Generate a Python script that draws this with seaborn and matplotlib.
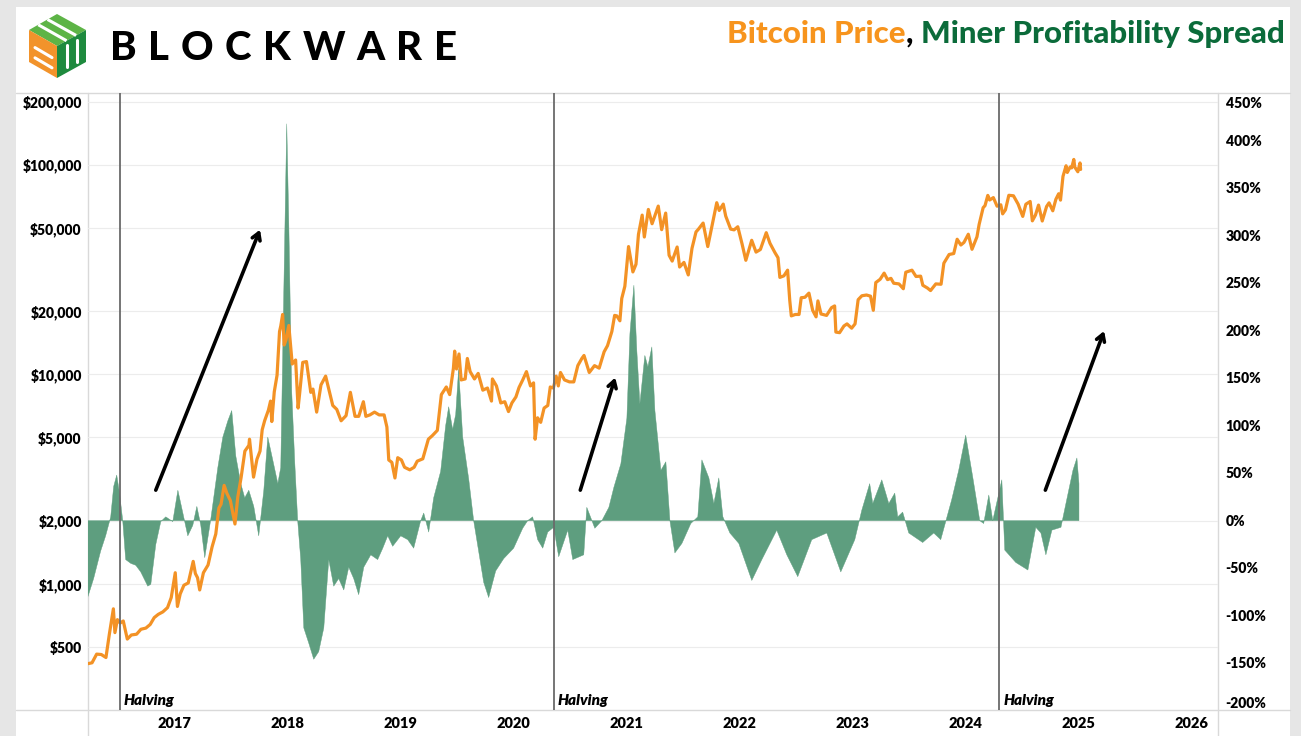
import numpy as np
import pandas as pd
import seaborn as sns
import matplotlib.pyplot as plt
import matplotlib.dates as mdates
from matplotlib.patches import Polygon, Rectangle
from matplotlib.ticker import NullLocator
from matplotlib.transforms import ScaledTranslation

# ---- data ----
price_dates = [
    '2016-03-28', '2016-04-10', '2016-04-25', '2016-05-10', '2016-05-25', '2016-06-05', '2016-06-12', '2016-06-18',
    '2016-06-23', '2016-07-01', '2016-07-10', '2016-07-20', '2016-08-02', '2016-08-15', '2016-09-01', '2016-09-15',
    '2016-10-01', '2016-10-15', '2016-10-28', '2016-11-10', '2016-11-25', '2016-12-10', '2016-12-22',
    '2017-01-04', '2017-01-11', '2017-01-20', '2017-02-01', '2017-02-15', '2017-03-03', '2017-03-10', '2017-03-17',
    '2017-03-24', '2017-04-05', '2017-04-20', '2017-05-03', '2017-05-15', '2017-05-25', '2017-06-01', '2017-06-11',
    '2017-06-20', '2017-07-01', '2017-07-16', '2017-07-25', '2017-08-05', '2017-08-17', '2017-08-30', '2017-09-01',
    '2017-09-14', '2017-09-25', '2017-10-05', '2017-10-12', '2017-10-20', '2017-11-01', '2017-11-08', '2017-11-12',
    '2017-11-20', '2017-11-29', '2017-12-07', '2017-12-11', '2017-12-17', '2017-12-22', '2017-12-28',
    '2018-01-06', '2018-01-17', '2018-01-28', '2018-02-05', '2018-02-10', '2018-02-20', '2018-03-04', '2018-03-18',
    '2018-03-25', '2018-04-06', '2018-04-20', '2018-05-05', '2018-05-15', '2018-05-28', '2018-06-10', '2018-06-24',
    '2018-07-10', '2018-07-24', '2018-08-08', '2018-08-20', '2018-09-04', '2018-09-12', '2018-09-25', '2018-10-10',
    '2018-10-25', '2018-11-10', '2018-11-19', '2018-11-25', '2018-12-05', '2018-12-15', '2018-12-24',
    '2019-01-05', '2019-01-15', '2019-02-01', '2019-02-15', '2019-02-25', '2019-03-15', '2019-04-02', '2019-04-15',
    '2019-05-01', '2019-05-14', '2019-05-30', '2019-06-10', '2019-06-22', '2019-06-26', '2019-07-02', '2019-07-10',
    '2019-07-17', '2019-07-30', '2019-08-06', '2019-08-15', '2019-08-29', '2019-09-10', '2019-09-25', '2019-10-10',
    '2019-10-23', '2019-10-26', '2019-11-08', '2019-11-22', '2019-12-05', '2019-12-17', '2019-12-28',
    '2020-01-10', '2020-01-20', '2020-02-01', '2020-02-13', '2020-02-26', '2020-03-07', '2020-03-12', '2020-03-20',
    '2020-03-30', '2020-04-10', '2020-04-22', '2020-04-30', '2020-05-10', '2020-05-19', '2020-05-26', '2020-06-02',
    '2020-06-15', '2020-07-01', '2020-07-15', '2020-07-28', '2020-08-10', '2020-08-17', '2020-09-03', '2020-09-20',
    '2020-10-05', '2020-10-21', '2020-11-01', '2020-11-15', '2020-11-24', '2020-12-01', '2020-12-11', '2020-12-17',
    '2020-12-27',
    '2021-01-08', '2021-01-22', '2021-02-01', '2021-02-09', '2021-02-21', '2021-02-28', '2021-03-13', '2021-03-25',
    '2021-04-14', '2021-04-25', '2021-05-08', '2021-05-19', '2021-05-29', '2021-06-14', '2021-06-22', '2021-07-06',
    '2021-07-20', '2021-08-01', '2021-08-14', '2021-08-22', '2021-09-06', '2021-09-21', '2021-10-01', '2021-10-20',
    '2021-10-28', '2021-11-10', '2021-11-18', '2021-12-04', '2021-12-15', '2021-12-27',
    '2022-01-10', '2022-01-22', '2022-02-10', '2022-02-24', '2022-03-10', '2022-03-29', '2022-04-10', '2022-04-26',
    '2022-05-06', '2022-05-12', '2022-05-25', '2022-06-06', '2022-06-13', '2022-06-18', '2022-07-01', '2022-07-13',
    '2022-07-20', '2022-08-01', '2022-08-14', '2022-08-26', '2022-09-06', '2022-09-12', '2022-09-22', '2022-10-10',
    '2022-10-26', '2022-11-05', '2022-11-09', '2022-11-21', '2022-12-05', '2022-12-15', '2022-12-30',
    '2023-01-10', '2023-01-20', '2023-02-01', '2023-02-16', '2023-03-01', '2023-03-10', '2023-03-18', '2023-04-01',
    '2023-04-14', '2023-04-25', '2023-05-06', '2023-05-15', '2023-06-01', '2023-06-15', '2023-06-23', '2023-07-13',
    '2023-07-26', '2023-08-10', '2023-08-17', '2023-09-01', '2023-09-11', '2023-09-28', '2023-10-15', '2023-10-24',
    '2023-11-10', '2023-11-25', '2023-12-06', '2023-12-18', '2023-12-28',
    '2024-01-11', '2024-01-23', '2024-02-08', '2024-02-15', '2024-02-28', '2024-03-05', '2024-03-14', '2024-03-20',
    '2024-04-01', '2024-04-13', '2024-04-25', '2024-05-01', '2024-05-10', '2024-05-21', '2024-06-05', '2024-06-20',
    '2024-07-05', '2024-07-15', '2024-07-29', '2024-08-05', '2024-08-15', '2024-08-25', '2024-09-06', '2024-09-20',
    '2024-09-28', '2024-10-10', '2024-10-20', '2024-10-29', '2024-11-04', '2024-11-12', '2024-11-22', '2024-11-26',
    '2024-12-05', '2024-12-10', '2024-12-17', '2024-12-20', '2024-12-30', '2025-01-06', '2025-01-08',
]
price_usd = [
    416, 420, 462, 460, 445, 575, 670, 760,
    585, 675, 650, 665, 545, 570, 575, 607,
    615, 640, 690, 715, 735, 770, 860,
    1130, 780, 895, 985, 1010, 1280, 1120, 1070,
    935, 1130, 1230, 1500, 1730, 2300, 2400, 2950,
    2700, 2500, 1930, 2590, 3230, 4300, 4580, 4900,
    3230, 3930, 4300, 5440, 6010, 6740, 7450, 5950,
    8250, 9900, 16000, 17000, 19300, 13800, 14600,
    17100, 11200, 11700, 6900, 8100, 11400, 11500, 8200,
    8500, 6600, 8900, 9800, 8500, 7100, 6800, 6000,
    6350, 8200, 6300, 6300, 7400, 6300, 6400, 6600,
    6400, 6400, 5600, 3900, 3800, 3200, 4000,
    3900, 3600, 3500, 3600, 3850, 3950, 4900, 5100,
    5400, 8000, 8700, 8000, 10700, 12900, 10600, 12500,
    9400, 9500, 11900, 10300, 9500, 10100, 8400, 8600,
    7450, 9500, 8800, 7300, 7400, 6640, 7300,
    7800, 8650, 9400, 10300, 8800, 9100, 4900, 6200,
    5900, 6900, 7100, 8700, 8600, 9800, 8800, 10200,
    9400, 9200, 9200, 11000, 11900, 12300, 10200, 11000,
    10700, 12800, 13700, 16000, 19100, 19000, 18000, 23000,
    26300,
    40700, 30800, 33500, 46500, 57500, 45200, 61200, 52300,
    63500, 49000, 58800, 37000, 34700, 40500, 32500, 34200,
    29800, 39900, 47800, 49300, 52700, 40700, 48100, 65900,
    60500, 64900, 56900, 49300, 48900, 50600,
    41800, 35000, 43600, 38300, 39400, 47400, 42200, 38100,
    36000, 29000, 29500, 31400, 22500, 19000, 19300, 19300,
    23200, 23300, 24400, 20200, 18800, 22400, 19400, 19100,
    20800, 21200, 15900, 15800, 17000, 17400, 16600,
    17400, 22700, 23700, 23900, 23600, 20200, 27400, 28400,
    30400, 28300, 28700, 27200, 27000, 25600, 30700, 31400,
    29300, 29400, 26600, 25800, 25100, 27000, 26900, 33900,
    37300, 37700, 44100, 41400, 42600,
    46600, 39500, 45300, 51900, 62400, 63800, 71400, 67900,
    69700, 63400, 64400, 58300, 60900, 71500, 71100, 64900,
    56700, 64800, 66800, 54000, 57500, 64200, 53900, 63200,
    65800, 60300, 68400, 72700, 67800, 88000, 98900, 91900,
    97500, 96600, 106000, 97500, 92600, 102000, 95000,
]

# miner profitability spread (%), dates as decimal years
spread_year = [
    2016.230, 2016.283, 2016.345, 2016.389, 2016.434, 2016.460, 2016.487, 2016.513, 2016.540, 2016.566,
    2016.611, 2016.655, 2016.699, 2016.761, 2016.788, 2016.832, 2016.876, 2016.920, 2016.982, 2017.027,
    2017.071, 2017.115, 2017.159, 2017.195, 2017.230, 2017.265, 2017.319, 2017.381, 2017.425, 2017.469,
    2017.504, 2017.540, 2017.584, 2017.619, 2017.655, 2017.699, 2017.743, 2017.788, 2017.823, 2017.867,
    2017.912, 2017.938, 2017.965, 2017.991, 2018.009, 2018.035, 2018.062, 2018.088, 2018.115, 2018.142,
    2018.186, 2018.230, 2018.274, 2018.319, 2018.363, 2018.407, 2018.451, 2018.496, 2018.540, 2018.584,
    2018.628, 2018.673, 2018.735, 2018.796, 2018.841, 2018.885, 2018.929, 2019.000, 2019.062, 2019.115,
    2019.177, 2019.204, 2019.248, 2019.292, 2019.354, 2019.398, 2019.425, 2019.460, 2019.487, 2019.513,
    2019.549, 2019.602, 2019.646, 2019.690, 2019.735, 2019.779, 2019.841, 2019.912, 2020.000, 2020.080,
    2020.124, 2020.168, 2020.212, 2020.257, 2020.301, 2020.354, 2020.398, 2020.478, 2020.522, 2020.619,
    2020.646, 2020.717, 2020.779, 2020.841, 2020.885, 2020.947, 2021.000, 2021.027, 2021.062, 2021.088,
    2021.115, 2021.159, 2021.186, 2021.221, 2021.248, 2021.301, 2021.345, 2021.381, 2021.425, 2021.487,
    2021.566, 2021.628, 2021.664, 2021.726, 2021.770, 2021.814, 2021.850, 2021.912, 2021.991, 2022.106,
    2022.195, 2022.327, 2022.416, 2022.513, 2022.637, 2022.770, 2022.894, 2023.018, 2023.080, 2023.150,
    2023.177, 2023.257, 2023.319, 2023.372, 2023.398, 2023.442, 2023.496, 2023.619, 2023.717, 2023.779,
    2023.876, 2023.938, 2024.000, 2024.062, 2024.124, 2024.159, 2024.204, 2024.239, 2024.319, 2024.345,
    2024.442, 2024.549, 2024.619, 2024.664, 2024.708, 2024.761, 2024.841, 2024.885, 2024.947, 2024.982,
    2025.000,
]
spread_pct = [
    -81, -61, -32, -16, 4, 36, 48, 28, 0, -41,
    -45, -47, -54, -69, -67, -25, -1, 4, -1, 32,
    8, -16, -5, 15, -5, -39, 2, 56, 88, 105,
    116, 68, 39, 24, 32, 15, -16, 32, 88, 64,
    39, 56, 242, 418, 314, 136, 61, 0, -41, -113,
    -129, -146, -138, -113, -41, -69, -61, -73, -49, -61,
    -78, -49, -36, -41, -29, -16, -27, -16, -20, -29,
    0, 8, -12, 24, 52, 100, 120, 96, 112, 160,
    88, 44, 0, -32, -65, -81, -53, -40, -29, -8,
    0, 4, -20, -29, -12, -7, -38, -10, -41, -36,
    14, -8, 0, 14, 35, 60, 108, 197, 248, 179,
    123, 174, 162, 183, 116, 53, 62, 0, -34, -24,
    -3, 4, 64, 45, 18, 45, 4, -13, -24, -63,
    -41, -10, -36, -59, -20, -13, -54, -20, 11, 39,
    18, 43, 18, 29, 4, 9, -13, -23, -13, -20,
    22, 53, 90, 46, 0, -3, 27, 0, 43, -31,
    -44, -52, -7, -13, -36, -10, -7, 18, 53, 66,
    39,
]

halving_dates = ['2016-07-09', '2020-05-11', '2024-04-20']
year_labels = list(range(2017, 2027))
usd_ticks = [500, 1000, 2000, 5000, 10000, 20000, 50000, 100000, 200000]
pct_ticks = list(range(-200, 451, 50))

# arrows: (tail date, tail price, head date, head price)
arrows = [
    ('2016-11-02', 2800, '2017-10-05', 49000),
    ('2020-08-05', 2800, '2020-11-26', 9650),
    ('2024-09-16', 2800, '2025-03-25', 16100),
]

ORANGE = '#F39225'
FILL_GREEN = '#5E9E7F'
TITLE_ORANGE = '#F7941D'
TITLE_GREEN = '#0B6B3A'
GRID = '#ECECEC'
FRAME = '#D9D9D9'
HEAVY = 'heavy'


def year_to_date(y):
    yr = int(np.floor(y))
    start = pd.Timestamp(yr, 1, 1)
    end = pd.Timestamp(yr + 1, 1, 1)
    return start + (end - start) * (y - yr)


def dnum(d):
    return mdates.date2num(pd.Timestamp(d))


sns.set_style('white')
plt.rcParams['font.family'] = ['Lato', 'DejaVu Sans']
plt.rcParams['font.weight'] = HEAVY
plt.rcParams['text.color'] = 'black'
plt.rcParams['xtick.color'] = 'black'
plt.rcParams['ytick.color'] = 'black'

W, H = 1301, 736
fig = plt.figure(figsize=(W / 100, H / 100), dpi=100)
fig.patch.set_facecolor('#E6E6E6')

# background layer in pixel coordinates (y down)
bg = fig.add_axes([0, 0, 1, 1], zorder=-10)
bg.set_xlim(0, W)
bg.set_ylim(H, 0)
bg.axis('off')
bg.add_patch(Rectangle((16, 7), 1274, H - 7, fc='white', ec='none'))
bg.plot([16, 1290], [93, 93], color=FRAME, lw=1)
bg.plot([16, 1290], [710, 710], color=FRAME, lw=1)
bg.plot([88, 88], [93, H], color=FRAME, lw=1)
bg.plot([1218, 1218], [93, H], color=FRAME, lw=1)

# logo cube
cube_top = [(29, 30), (57, 14), (86, 30), (57, 46)]
cube_left = [(29, 30), (57, 46), (57, 78), (29, 62)]
cube_right = [(57, 46), (86, 30), (86, 62), (57, 78)]
bg.add_patch(Polygon(cube_top, closed=True, fc='#5DB446', ec='none'))
bg.add_patch(Polygon(cube_left, closed=True, fc='#F2932B', ec='none'))
bg.add_patch(Polygon(cube_right, closed=True, fc='#1E8A3E', ec='none'))
for f in [0.33, 0.66]:
    p0 = (29 + 28 * f, 30 - 16 * f)
    p1 = (57 + 29 * f, 46 - 16 * f)
    bg.plot([p0[0], p1[0]], [p0[1], p1[1]], color='white', lw=2.2, solid_capstyle='butt')
for f in [0.3, 0.62]:
    bg.plot([35, 52], [36 + 32 * f + 2, 46 + 32 * f + 2], color='white', lw=2.2)
for f in [0.35, 0.68]:
    xx = 57 + 29 * f
    bg.plot([xx, xx], [46 - 16 * f + 5, 78 - 16 * f - 5], color='white', lw=2.2)

renderer = fig.canvas.get_renderer()

# BLOCKWARE wordmark with wide tracking
word = 'BLOCKWARE'
letters = [bg.text(0, 60, ch, fontsize=29, fontweight='black',
                   color='black', va='baseline', ha='left') for ch in word]
widths = [t.get_window_extent(renderer).width for t in letters]
gap = (457 - 110 - sum(widths)) / (len(word) - 1)
xpos = 110
for t, w in zip(letters, widths):
    t.set_x(xpos)
    xpos += w + gap

# coloured title, right aligned
title_parts = [('Bitcoin Price', TITLE_ORANGE), (',', 'black'), ('Miner Profitability Spread', TITLE_GREEN)]
tmp = [bg.text(0, 0, s, fontsize=10, fontweight='black') for s, c in title_parts]
total = sum(t.get_window_extent(renderer).width for t in tmp) + 10 * 100 / 72 * 0.26
for t in tmp:
    t.remove()
fs = 10 * (1285 - 728) / total
xr = 1285
for s, c in reversed(title_parts):
    t = bg.text(xr, 34, s, ha='right', va='center', fontsize=fs, fontweight='black', color=c)
    xr -= t.get_window_extent(renderer).width
    if s == 'Miner Profitability Spread':
        xr -= fs * 100 / 72 * 0.26

# ---- main chart ----
ax = fig.add_axes([88 / W, (H - 710) / H, (1218 - 88) / W, (710 - 93) / H])
ax.set_facecolor('none')
ax.set_yscale('log')
ax.set_ylim(250, 220000)
ax.set_yticks(usd_ticks)
ax.set_yticklabels([f'${v:,}' for v in usd_ticks])
ax.yaxis.set_minor_locator(NullLocator())
ax.grid(axis='y', color=GRID, lw=0.8)
ax.grid(axis='x', visible=False)
ax.tick_params(axis='y', length=0, pad=4.5, labelsize=10)
ax.set_xticks([dnum(f'{y}-01-01') for y in year_labels])
ax.set_xticklabels([str(y) for y in year_labels])
ax.tick_params(axis='x', length=0, pad=5, labelsize=10.5)

# spread area on right axis
ax2 = ax.twinx()
spread_x = mdates.date2num([year_to_date(y) for y in spread_year])
ax2.fill_between(spread_x, spread_pct, 0, color=FILL_GREEN, lw=0.3, interpolate=True)
ax2.set_ylim(-200, 450)
ax2.set_yticks(pct_ticks)
ax2.set_yticklabels([f'{v}%' for v in pct_ticks])
ax2.tick_params(axis='y', length=0, pad=5.5, labelsize=10)
labs = ax2.get_yticklabels()
labs[0].set_va('bottom')
labs[-1].set_va('top')
labs[-1].set_transform(labs[-1].get_transform() + ScaledTranslation(0, -4 / 100, fig.dpi_scale_trans))

# price line on top
ax3 = ax.twinx()
ax3.set_yscale('log')
df = pd.DataFrame({'date': mdates.date2num(pd.to_datetime(price_dates)), 'price': np.array(price_usd, dtype=float)})
sns.lineplot(data=df, x='date', y='price', ax=ax3, color=ORANGE, lw=2.3)
ax3.set_ylim(250, 220000)
ax3.set_yticks([])
ax3.yaxis.set_minor_locator(NullLocator())
ax3.set_xlabel('')
ax3.set_ylabel('')

for d in halving_dates:
    ax3.axvline(dnum(d), color='#6A6A6A', lw=1.3)
    ax3.annotate('Halving', xy=(dnum(d), 0.0), xycoords=ax3.get_xaxis_transform(),
                 xytext=(3, 2), textcoords='offset points', fontsize=11,
                 fontstyle='italic', fontweight=HEAVY, ha='left', va='bottom')

for t0, p0, t1, p1 in arrows:
    ax3.annotate('', xy=(dnum(t1), float(p1)), xytext=(dnum(t0), float(p0)),
                 arrowprops=dict(arrowstyle='->,head_length=0.5,head_width=0.3',
                                 color='black', lw=2.6, shrinkA=0, shrinkB=0))

ax.set_xlim(dnum('2016-03-28'), dnum('2026-03-28'))
for a in (ax, ax2, ax3):
    for sp in a.spines.values():
        sp.set_visible(False)

fig.savefig('out.png', dpi=100, facecolor=fig.get_facecolor())
